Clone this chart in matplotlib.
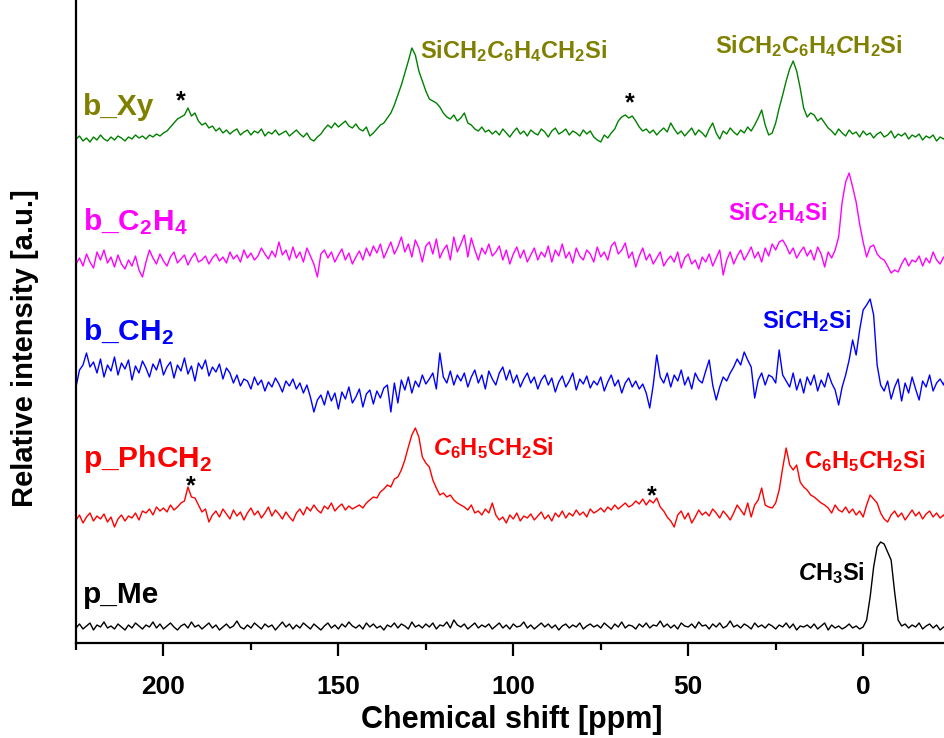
import numpy as np
import matplotlib
matplotlib.use('Agg')
from matplotlib import pyplot as plt

plt.rcParams['font.family'] = ['Liberation Sans', 'DejaVu Sans']
plt.rcParams['mathtext.fontset'] = 'custom'
plt.rcParams['mathtext.rm'] = 'Liberation Sans:bold'
plt.rcParams['mathtext.it'] = 'Liberation Sans:bold:italic'
plt.rcParams['mathtext.bf'] = 'Liberation Sans:bold'
plt.rcParams['mathtext.default'] = 'rm'

# chemical shift grid, ppm (225 down to -24, 1 ppm steps)
shift = np.arange(225, -25, -1)

# intensities (a.u., each trace relative to its own baseline)
b_xy = [4, 7, 2, 5, 1, 6, 3, 8, 4, 2,
        6, 3, 7, 5, 2, 6, 4, 8, 5, 7,
        4, 8, 6, 9, 7, 10, 12, 16, 20, 24,
        26, 28, 35, 27, 30, 22, 18, 20, 15, 17,
        12, 15, 10, 13, 9, 12, 14, 8, 11, 13,
        8, 12, 10, 14, 7, 11, 9, 13, 8, 10,
        12, 7, 10, 13, 9, 6, 10, 4, 2, 6,
        9, 14, 18, 15, 20, 16, 19, 22, 17, 15,
        19, 14, 12, 16, 7, 10, 14, 18, 20, 25,
        30, 38, 48, 58, 70, 82, 95, 88, 72, 62,
        52, 44, 42, 40, 36, 30, 26, 24, 28, 22,
        25, 30, 20, 18, 14, 12, 16, 11, 13, 9,
        12, 8, 14, 10, 6, 11, 15, 9, 12, 7,
        13, 10, 8, 14, 11, 6, 12, 15, 9, 11,
        14, 8, 12, 10, 7, 13, 9, 12, 6, 3,
        1, 8, 5, 10, 14, 22, 26, 28, 25, 27,
        22, 16, 12, 14, 10, 13, 8, 12, 15, 11,
        20, 14, 9, 12, 7, 11, 15, 8, 13, 10,
        6, 14, 20, 10, 4, 12, 9, 15, 11, 8,
        13, 10, 16, 12, 18, 25, 33, 18, 8, 10,
        20, 35, 48, 62, 74, 82, 72, 55, 35, 26,
        30, 28, 22, 25, 20, 15, 12, 8, 14, 10,
        7, 13, 9, 11, 6, 12, 8, 10, 5, 9,
        11, 6, 8, 12, 5, 9, 7, 10, 4, 8,
        6, 9, 3, 7, 5, 8, 2, 6, 4, 7]

b_c2h4 = [8, 14, 6, 18, 10, 4, 20, 12, 22, 9,
          15, 5, 17, 8, 3, 12, 6, 16, 2, -5,
          10, 22, 14, 8, 18, 11, 6, 15, 20, 9,
          13, 17, 7, 14, 19, 10, 12, 16, 8, 14,
          18, 11, 15, 9, 20, 13, 17, 10, 22, 14,
          19, 12, 16, 24, 18, 13, 21, 15, 30, 17,
          22, 12, 25, 14, 20, 10, 24, 16, 8, -5,
          18, 22, 14, 20, 10, 17, 23, 12, 19, 8,
          15, 21, 12, 24, 16, 26, 19, 28, 14, 22,
          30, 18, 25, 35, 20, 28, 15, 32, 24, 10,
          26, 30, 18, 33, 14, 22, 27, 12, 35, 20,
          28, 37, 15, 34, 22, 12, 24, 18, 28, 16,
          20, 26, 12, 22, 8, 18, 25, 14, 22, 10,
          17, 24, 12, 20, 15, 26, 10, 22, 16, 28,
          14, 20, 9, 24, 16, 12, 22, 18, 10, 25,
          15, 20, 12, 26, 30, 18, 22, 29, 14, 20,
          5, 16, 24, 12, 18, 8, 14, 20, 6, 12,
          16, 10, 20, 4, 14, 18, 8, 12, 3, 15,
          10, 18, 6, 14, 22, -3, 12, 20, 8, 16,
          22, 12, 18, 25, 14, 20, 10, 24, 16, 28,
          22, 30, 32, 26, 18, 24, 14, 20, 25, 16,
          22, 12, 25, 18, 5, 20, 14, 22, 35, 70,
          90, 99, 85, 70, 48, 30, 15, 25, 27, 18,
          14, 12, 6, -1, 2, 0, 8, 14, 6, 12,
          10, 16, 6, 14, 9, 20, 12, 8, 15, 10]

b_ch2 = [8, 25, 30, 42, 28, 33, 22, 36, 18, 30,
         24, 38, 20, 32, 26, 35, 15, 29, 22, 34,
         27, 18, 31, 25, 36, 20, 28, 33, 17, 30,
         24, 37, 21, 29, 14, 32, 26, 35, 19, 28,
         23, 31, 16, 27, 22, 12, 20, 9, 16, 14,
         6, 18, 10, 15, 4, 13, 8, 17, 11, 3,
         14, 9, 16, 6, 12, 2, 10, -2, -17, -5,
         0, -10, 4, -6, 2, -14, 3, -4, 8, -8,
         -2, 6, -12, 1, 5, -9, 4, -3, 7, 10,
         -17, 12, -8, 15, 5, 18, 2, 14, 8, 20,
         11, 16, 22, 6, 42, 18, 12, 24, 10, 20,
         14, 22, 8, 18, 25, 12, 20, 6, 24, 16,
         10, 22, 28, 15, 25, 12, 20, 8, 16, 22,
         12, 18, 6, 15, 20, 10, 17, 3, 13, 19,
         8, 14, 22, 5, 16, 11, 19, 7, 14, 10,
         18, 4, 13, 20, 9, 15, 2, 12, 17, 8,
         14, 6, 11, 2, -13, 10, 40, 18, 12, 22,
         8, 20, 14, 25, 10, 18, 6, 22, 15, 12,
         24, 35, 10, -5, 8, 18, 14, 22, 28, 36,
         30, 43, 35, 28, -3, 15, 22, 10, 20, 18,
         12, 45, 20, 14, 8, 22, 5, 16, 2, 18,
         10, 20, 4, 15, 8, 22, 12, 5, -10, 8,
         20, 35, 55, 40, 65, 85, 90, 96, 80, 30,
         10, 4, 14, -4, 8, 16, -6, 12, 2, 18,
         6, -5, 14, 8, 20, 4, 12, 16, 10, 22]

p_phch2 = [5, 10, 2, 8, 12, 4, 9, 6, 11, 3,
           8, -2, 6, 10, 4, 9, 7, 12, 5, 14,
           12, 16, 10, 18, 14, 17, 13, 20, 15, 18,
           22, 24, 38, 28, 27, 20, 13, 16, 3, 10,
           14, 8, 16, 11, 6, 15, 9, 13, 5, 12,
           17, 10, 14, 7, 12, 18, 9, 15, 11, 6,
           13, 8, 4, 12, 16, 10, 18, 14, 20, 15,
           12, 19, 16, 22, 14, 18, 21, 15, 19, 16,
           18, 20, 17, 22, 25, 28, 27, 33, 36, 40,
           38, 46, 48, 55, 65, 78, 90, 97, 88, 68,
           62, 58, 45, 37, 30, 32, 28, 30, 25, 22,
           20, 18, 15, 20, 12, 14, 10, 16, 12, 22,
           10, 5, 8, 2, 10, 6, 12, 4, 9, 7,
           11, 5, 9, 13, 6, 10, 4, 12, 8, 14,
           7, 12, 9, 15, 10, 13, 8, 16, 12, 14,
           17, 13, 18, 15, 20, 16, 19, 22, 18, 20,
           24, 21, 26, 20, 25, 22, 27, 18, 14, 8,
           4, -2, 10, 14, 6, 12, 2, 8, 15, 10,
           13, 9, 16, 12, 7, 14, 10, 5, 12, 20,
           15, 10, 22, 8, 20, 25, 37, 20, 18, 17,
           22, 35, 57, 77, 60, 55, 60, 43, 38, 35,
           30, 28, 25, 22, 20, 17, 12, 20, 15, 13,
           18, 12, 16, 10, 14, 8, 20, 30, 26, 22,
           12, 6, 3, 10, 14, 8, 12, 5, 10, 15,
           9, 13, 6, 11, 14, 8, 12, 7, 10, 5]

p_me = [4, 8, 3, 6, 9, 2, 7, 5, 10, 4,
        6, 3, 8, 5, 2, 7, 4, 9, 6, 3,
        7, 5, 10, 4, 8, 3, 6, 9, 5, 2,
        6, 8, 4, 10, 5, 7, 3, 6, 9, 4,
        7, 2, 5, 8, 4, 6, 11, 5, 3, 7,
        4, 9, 6, 3, 8, 5, 7, 2, 6, 10,
        5, 8, 3, 7, 4, 9, 6, 3, 8, 5,
        2, 6, 9, 4, 7, 3, 8, 5, 10, 6,
        4, 7, 3, 9, 5, 8, 4, 6, 2, 7,
        5, 9, 4, 8, 6, 3, 10, 5, 7, 4,
        8, 5, 9, 3, 7, 6, 10, 4, 12, 7,
        5, 8, 3, 6, 9, 4, 7, 5, 8, 3,
        6, 9, 4, 7, 3, 8, 5, 6, 10, 4,
        7, 3, 6, 9, 5, 8, 4, 7, 2, 6,
        8, 4, 7, 5, 9, 3, 6, 8, 5, 7,
        4, 9, 6, 3, 8, 5, 10, 4, 7, 6,
        3, 8, 5, 9, 4, 7, 6, 11, 5, 8,
        4, 7, 3, 9, 6, 5, 8, 4, 10, 6,
        7, 3, 8, 5, 9, 4, 6, 11, 5, 7,
        4, 8, 6, 3, 9, 5, 7, 4, 8, 6,
        3, 7, 5, 9, 4, 8, 2, 6, 5, 7,
        4, 8, 3, 6, 9, 2, 7, 4, 6, 3,
        5, 8, 4, 6, 3, 5, 12, 35, 65, 85,
        90, 88, 80, 72, 40, 12, 6, 8, 4, 7,
        5, 9, 3, 6, 8, 4, 7, 2, 5, 6]

spectra = [b_xy, b_c2h4, b_ch2, p_phch2, p_me]
names = ['b_Xy', r'b_C$_2$H$_4$', r'b_CH$_2$', r'p_PhCH$_2$', 'p_Me']
line_colors = ['#008000', '#FF00FF', '#0000FF', '#FF0000', 'black']
label_colors = ['#808000', '#FF00FF', '#0000FF', '#FF0000', 'black']
offsets = [500, 371, 248, 118, 11]
name_y = [528, 413, 303, 176, 40]

# peak assignments: (text, shift, height, colour)
peaks = [
    (r'SiCH$_2$$\mathit{C}_6$H$_4$CH$_2$Si', 126.6, 585, '#808000'),
    (r'Si$\mathit{C}$H$_2$C$_6$H$_4$$\mathit{C}$H$_2$Si', 42.3, 590, '#808000'),
    (r'Si$\mathit{C}_2$H$_4$Si', 38.6, 423, '#FF00FF'),
    (r'Si$\mathit{C}$H$_2$Si', 28.9, 315, '#0000FF'),
    (r'$\mathit{C}_6$H$_5$CH$_2$Si', 122.9, 188, '#FF0000'),
    (r'C$_6$H$_5$$\mathit{C}$H$_2$Si', 16.9, 175, '#FF0000'),
    (r'$\mathit{C}$H$_3$Si', 18.6, 63, 'black'),
]
# spinning sidebands
stars_x = [195, 66.6, 192.3, 60.3]
stars_y = [542, 540, 157, 147]

fig = plt.figure(figsize=(9.45, 7.38), dpi=100)
ax = fig.add_axes([76 / 945, 1 - 643 / 738, 1 - 76 / 945, 643 / 738])

for data, off, col in zip(spectra, offsets, line_colors):
    ax.plot(shift, np.array(data) + off, color=col, lw=1.0)

for name, y, col in zip(names, name_y, label_colors):
    ax.text(222.9, y, name, color=col, fontsize=21.5, fontweight='bold',
            ha='left', va='baseline')

for txt, x, y, col in peaks:
    ax.text(x, y, txt, color=col, fontsize=17, fontweight='bold',
            ha='left', va='baseline')

for x, y in zip(stars_x, stars_y):
    ax.text(x, y, '*', color='black', fontsize=18, fontweight='bold',
            ha='center', va='center')

ax.set_xlim(225, -23.4)
ax.set_ylim(0, 643)
ax.spines['top'].set_visible(False)
ax.spines['right'].set_visible(False)
ax.spines['left'].set_linewidth(1.6)
ax.spines['bottom'].set_linewidth(1.6)
ax.set_yticks([])
ax.set_xticks([200, 150, 100, 50, 0])
ax.set_xticks([225, 175, 125, 75, 25], minor=True)
ax.tick_params(axis='x', which='major', direction='out', length=9, width=1.6, pad=14)
ax.tick_params(axis='x', which='minor', direction='out', length=5, width=1.6)
for lab in ax.get_xticklabels():
    lab.set_fontweight('bold')
    lab.set_fontsize(19)

fig.text(512 / 945, 1 - 720 / 738, 'Chemical shift [ppm]', ha='center', va='center',
         fontsize=22, fontweight='bold')
fig.text(25 / 945, 1 - 348 / 738, 'Relative intensity [a.u.]', ha='center', va='center',
         rotation=90, fontsize=21, fontweight='bold')

plt.savefig('out.png', dpi=100)
